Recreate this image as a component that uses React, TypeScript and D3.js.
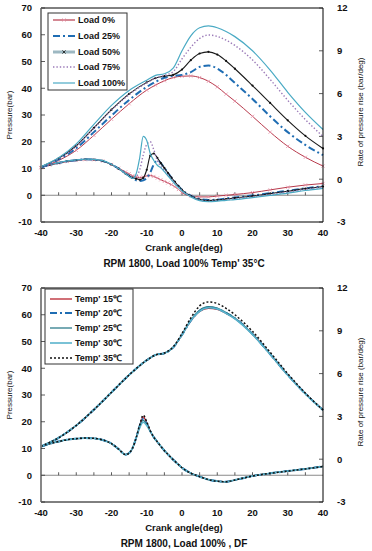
import React from 'react';
import * as d3 from 'd3';

// ---------- data ----------
const PRESSURE_ANGLES = [-40, -35, -30, -25, -20, -15, -10, -7.5, -5, -2.5, 0, 2.5, 5, 7.5, 10, 12.5, 15, 20, 25, 30, 35, 40];
const RATE_ANGLES = [-40, -37.5, -35, -32.5, -30, -27.5, -25, -22.5, -20, -18, -16, -15, -14, -13, -12, -11, -10, -9, -8, -7, -6, -5, -4, -3, -2, -1, 0, 2.5, 5, 7.5, 10, 12.5, 15, 20, 25, 30, 35, 40];

const X_TICKS = [-40, -30, -20, -10, 0, 10, 20, 30, 40];
const LEFT_TICKS = [-10, 0, 10, 20, 30, 40, 50, 60, 70];
const RIGHT_TICKS = [-3, 0, 3, 6, 9, 12];
const ZERO_LINE_TICKS = [-35, -30, -25, -20, -15, -10, -5, 0, 5, 10, 15, 20, 25, 30, 35];

// Top panel: load sweep
const LOAD_LABELS = ['Load 0%', 'Load 25%', 'Load 50%', 'Load 75%', 'Load 100%'];
const load0Pressure = [10.3, 13.0, 16.8, 22.4, 28.4, 34.2, 39.3, 41.2, 42.8, 44.0, 44.5, 44.6, 44.0, 42.6, 40.5, 37.8, 35.2, 29.5, 23.6, 18.3, 14.2, 10.9];
const load25Pressure = [10.4, 13.4, 17.6, 23.6, 29.8, 35.6, 40.5, 42.4, 43.9, 44.6, 45.0, 46.0, 48.0, 48.5, 47.4, 45.0, 42.0, 36.0, 29.5, 23.6, 18.8, 15.0];
const load50Pressure = [10.6, 13.8, 18.5, 25.2, 32.0, 37.9, 42.2, 43.8, 44.5, 45.0, 47.0, 50.5, 53.0, 53.6, 52.6, 50.2, 47.3, 41.0, 34.5, 28.0, 22.2, 17.5];
const load75Pressure = [10.5, 13.6, 18.3, 25.0, 31.8, 37.6, 42.0, 43.8, 44.8, 46.2, 51.0, 55.3, 58.6, 59.9, 59.4, 58.0, 56.0, 50.6, 43.3, 35.5, 28.3, 22.0];
const load100Pressure = [10.7, 14.0, 19.2, 26.5, 33.6, 39.2, 43.0, 44.8, 45.4, 47.5, 54.0, 59.6, 62.6, 63.3, 62.6, 61.2, 59.3, 54.0, 46.8, 38.5, 31.0, 24.6];

const load0Rate = [0.82, 0.99, 1.12, 1.24, 1.31, 1.37, 1.36, 1.27, 1.03, 0.77, 0.51, 0.38, 0.24, 0.17, 0.11, 0.15, 0.24, 0.26, 0.19, 0.08, -0.04, -0.15, -0.26, -0.38, -0.53, -0.72, -0.94, -1.18, -1.24, -1.24, -1.18, -1.13, -1.07, -0.94, -0.75, -0.56, -0.41, -0.3];
const load25Rate = [0.84, 1.01, 1.14, 1.26, 1.33, 1.39, 1.37, 1.28, 1.03, 0.75, 0.41, 0.23, 0.06, -0.08, -0.13, -0.08, 0.09, 0.47, 1.03, 1.31, 1.13, 0.79, 0.45, 0.11, -0.19, -0.49, -0.75, -1.16, -1.39, -1.46, -1.43, -1.35, -1.28, -1.14, -0.98, -0.81, -0.64, -0.49];
const load50Rate = [0.85, 1.02, 1.15, 1.27, 1.34, 1.4, 1.38, 1.28, 1.03, 0.74, 0.38, 0.23, 0.11, 0.04, -0.04, 0.09, 0.66, 1.65, 1.8, 1.5, 1.13, 0.79, 0.45, 0.11, -0.19, -0.49, -0.75, -1.18, -1.43, -1.5, -1.46, -1.39, -1.31, -1.18, -1.01, -0.84, -0.66, -0.51];
const load75Rate = [0.84, 1.02, 1.15, 1.27, 1.34, 1.4, 1.38, 1.29, 1.04, 0.74, 0.38, 0.23, 0.11, 0.19, 0.66, 1.69, 2.44, 2.63, 2.06, 1.31, 0.9, 0.6, 0.3, 0.0, -0.28, -0.54, -0.79, -1.2, -1.46, -1.54, -1.5, -1.44, -1.37, -1.24, -1.07, -0.9, -0.71, -0.56];
const load100Rate = [0.86, 1.03, 1.16, 1.28, 1.35, 1.41, 1.39, 1.3, 1.05, 0.75, 0.38, 0.19, 0.06, 0.38, 1.5, 3.0, 2.72, 1.78, 1.31, 0.98, 0.79, 0.53, 0.24, -0.04, -0.34, -0.58, -0.83, -1.24, -1.5, -1.58, -1.54, -1.48, -1.43, -1.29, -1.14, -0.98, -0.79, -0.64];

// Bottom panel: temperature sweep
const TEMP_LABELS = ["Temp' 15\u2103", "Temp' 20\u2103", "Temp' 25\u2103", "Temp' 30\u2103", "Temp' 35\u2103"];
const temp15Pressure = [10.8, 14.0, 18.6, 24.5, 31.0, 37.5, 43.0, 45.0, 45.6, 47.8, 52.5, 57.7, 61.2, 62.4, 62.0, 60.5, 58.6, 52.8, 45.3, 37.5, 30.5, 24.4];
const temp20Pressure = [10.8, 14.0, 18.6, 24.5, 31.0, 37.5, 43.0, 45.0, 45.6, 47.8, 52.5, 57.8, 61.5, 62.7, 62.3, 60.7, 58.7, 52.8, 45.3, 37.5, 30.5, 24.4];
const temp25Pressure = [10.8, 14.0, 18.6, 24.5, 31.0, 37.5, 43.0, 45.0, 45.6, 47.8, 52.5, 58.0, 61.7, 63.0, 62.5, 60.8, 58.8, 52.8, 45.3, 37.5, 30.5, 24.4];
const temp30Pressure = [10.8, 14.0, 18.6, 24.5, 31.0, 37.5, 43.0, 45.0, 45.6, 47.8, 52.5, 57.8, 61.3, 62.6, 62.2, 60.5, 58.5, 52.6, 45.2, 37.4, 30.4, 24.3];
const temp35Pressure = [10.8, 14.0, 18.6, 24.5, 31.0, 37.5, 43.0, 45.0, 45.7, 48.0, 53.0, 58.8, 63.3, 64.8, 64.2, 62.4, 60.0, 53.8, 46.0, 38.0, 30.7, 24.4];

const temp15Rate = [0.88, 1.09, 1.24, 1.37, 1.44, 1.48, 1.46, 1.35, 1.09, 0.71, 0.32, 0.43, 0.79, 1.5, 2.3, 2.96, 2.55, 1.97, 1.54, 1.22, 0.9, 0.6, 0.34, 0.09, -0.15, -0.38, -0.6, -0.98, -1.22, -1.43, -1.54, -1.58, -1.46, -1.18, -0.99, -0.83, -0.68, -0.51];
const temp20Rate = [0.88, 1.09, 1.24, 1.37, 1.44, 1.48, 1.46, 1.35, 1.09, 0.71, 0.32, 0.43, 0.79, 1.5, 2.34, 2.81, 2.49, 1.97, 1.54, 1.22, 0.9, 0.6, 0.34, 0.09, -0.15, -0.38, -0.6, -0.98, -1.22, -1.43, -1.54, -1.58, -1.46, -1.18, -0.99, -0.83, -0.68, -0.51];
const temp25Rate = [0.88, 1.09, 1.24, 1.37, 1.44, 1.48, 1.46, 1.35, 1.09, 0.71, 0.32, 0.43, 0.79, 1.5, 2.34, 2.72, 2.44, 1.97, 1.54, 1.22, 0.9, 0.6, 0.34, 0.09, -0.15, -0.38, -0.6, -0.98, -1.22, -1.43, -1.54, -1.58, -1.46, -1.18, -0.99, -0.83, -0.68, -0.51];
const temp30Rate = [0.88, 1.09, 1.24, 1.37, 1.44, 1.48, 1.46, 1.35, 1.09, 0.71, 0.32, 0.43, 0.79, 1.5, 2.2, 2.59, 2.36, 1.95, 1.54, 1.22, 0.9, 0.6, 0.34, 0.09, -0.15, -0.38, -0.6, -0.98, -1.22, -1.43, -1.54, -1.58, -1.46, -1.18, -0.99, -0.83, -0.68, -0.51];
const temp35Rate = [0.88, 1.09, 1.24, 1.37, 1.44, 1.48, 1.46, 1.35, 1.09, 0.71, 0.32, 0.43, 0.79, 1.5, 2.4, 3.09, 2.62, 1.99, 1.54, 1.22, 0.9, 0.6, 0.34, 0.09, -0.15, -0.38, -0.6, -0.98, -1.22, -1.43, -1.54, -1.58, -1.46, -1.18, -0.99, -0.83, -0.68, -0.51];

const TOP_CAPTION = "RPM 1800, Load 100% Temp' 35\u00B0C";
const BOTTOM_CAPTION = 'RPM 1800, Load 100% , DF';

// ---------- layout / style ----------
const FONT = "'Liberation Sans', Arial, sans-serif";
const PLOT_LEFT = 41;
const PLOT_RIGHT = 323;
const PLOT_H = 214;

type SeriesStyle = {
  color: string;
  width: number;
  dash?: string;
  marker?: 'x' | 'dot';
  markerColor?: string;
  legendColor?: string;
  legendWidth?: number;
};

const LOAD_STYLES: SeriesStyle[] = [
  { color: '#b83a4c', width: 1, marker: 'x', markerColor: '#e58fa5' },
  { color: '#1f6db3', width: 2, dash: '7,3,2,3' },
  { color: '#1a1a1a', width: 1.1, marker: 'dot', markerColor: '#111', legendColor: '#9db8c2', legendWidth: 3 },
  { color: '#9b7ab8', width: 1.4, dash: '1.4,2' },
  { color: '#4aaac4', width: 1.2 },
];

const TEMP_STYLES: SeriesStyle[] = [
  { color: '#b8222e', width: 1.3 },
  { color: '#1f6db3', width: 2, dash: '7,3,2,3' },
  { color: '#2e7c8c', width: 1.3 },
  { color: '#58b3cc', width: 1.6 },
  { color: '#111111', width: 1.5, dash: '2,2' },
];

type PanelProps = {
  top: number;
  labels: string[];
  styles: SeriesStyle[];
  pressure: number[][];
  rate: number[][];
  caption: string;
  legend: { x: number; y: number; w: number; h: number; rowY: number[] };
};

function Marker({ kind, cx, cy, color }: { kind: 'x' | 'dot'; cx: number; cy: number; color: string }) {
  if (kind === 'x') {
    const s = 1.6;
    return (
      <path d={`M${cx - s},${cy - s}L${cx + s},${cy + s}M${cx - s},${cy + s}L${cx + s},${cy - s}`} stroke={color} strokeWidth={0.8} fill="none" />
    );
  }
  return <circle cx={cx} cy={cy} r={1.1} fill={color} />;
}

function Panel({ top, labels, styles, pressure, rate, caption, legend }: PanelProps) {
  const bottom = top + PLOT_H;
  const x = d3.scaleLinear().domain([-40, 40]).range([PLOT_LEFT, PLOT_RIGHT]);
  const yL = d3.scaleLinear().domain([-10, 70]).range([bottom, top]);
  const yR = d3.scaleLinear().domain([-3, 12]).range([bottom, top]);

  const lineP = d3
    .line<number>()
    .x((_, i) => x(PRESSURE_ANGLES[i]))
    .y((d) => yL(d))
    .curve(d3.curveMonotoneX);
  const lineR = d3
    .line<number>()
    .x((_, i) => x(RATE_ANGLES[i]))
    .y((d) => yR(d))
    .curve(d3.curveMonotoneX);

  const midY = (top + bottom) / 2;

  return (
    <g>
      {/* zero line with ticks */}
      <line x1={PLOT_LEFT} x2={PLOT_RIGHT} y1={yL(0)} y2={yL(0)} stroke="#8a8a8a" strokeWidth={1} />
      {ZERO_LINE_TICKS.map((t) => (
        <line key={'zt' + t} x1={x(t)} x2={x(t)} y1={yL(0)} y2={yL(0) - 3} stroke="#333" strokeWidth={0.8} />
      ))}

      {/* series */}
      {rate.map((vals, si) => (
        <g key={'r' + si}>
          <path d={lineR(vals) || ''} fill="none" stroke={styles[si].color} strokeWidth={styles[si].width} strokeDasharray={styles[si].dash} />
          {styles[si].marker &&
            vals.map((v, i) => (
              <Marker key={i} kind={styles[si].marker!} cx={x(RATE_ANGLES[i])} cy={yR(v)} color={styles[si].markerColor || styles[si].color} />
            ))}
        </g>
      ))}
      {pressure.map((vals, si) => (
        <g key={'p' + si}>
          <path d={lineP(vals) || ''} fill="none" stroke={styles[si].color} strokeWidth={styles[si].width} strokeDasharray={styles[si].dash} />
          {styles[si].marker &&
            vals.map((v, i) => (
              <Marker key={i} kind={styles[si].marker!} cx={x(PRESSURE_ANGLES[i])} cy={yL(v)} color={styles[si].markerColor || styles[si].color} />
            ))}
        </g>
      ))}

      {/* frame */}
      <line x1={PLOT_LEFT} x2={PLOT_RIGHT} y1={top} y2={top} stroke="#000" strokeWidth={1} />
      <line x1={PLOT_LEFT} x2={PLOT_RIGHT} y1={bottom} y2={bottom} stroke="#000" strokeWidth={1} />
      <line x1={PLOT_RIGHT} x2={PLOT_RIGHT} y1={top} y2={bottom} stroke="#000" strokeWidth={1} />
      <line x1={PLOT_LEFT} x2={PLOT_LEFT} y1={top} y2={bottom} stroke="#7a7a7a" strokeWidth={1.8} />

      {/* left axis */}
      {LEFT_TICKS.map((t) => (
        <g key={'l' + t}>
          <line x1={PLOT_LEFT} x2={PLOT_LEFT + 4} y1={yL(t)} y2={yL(t)} stroke="#333" strokeWidth={0.8} />
          <text x={32} y={yL(t)} dy="0.35em" textAnchor="end" fontSize={9.5} fontWeight="bold" fontFamily={FONT} fill="#111">
            {t}
          </text>
        </g>
      ))}
      {/* right axis */}
      {RIGHT_TICKS.map((t) => (
        <g key={'rt' + t}>
          <line x1={PLOT_RIGHT - 4} x2={PLOT_RIGHT} y1={yR(t)} y2={yR(t)} stroke="#333" strokeWidth={0.8} />
          <text x={337} y={yR(t)} dy="0.35em" textAnchor="start" fontSize={9.5} fontWeight="bold" fontFamily={FONT} fill="#111">
            {t}
          </text>
        </g>
      ))}
      {/* x tick labels */}
      {X_TICKS.map((t) => (
        <text key={'x' + t} x={x(t)} y={bottom + 11} dy="0.35em" textAnchor="middle" fontSize={9.5} fontWeight="bold" fontFamily={FONT} fill="#111">
          {t}
        </text>
      ))}

      {/* titles */}
      <text x={184} y={bottom + 26} dy="0.35em" textAnchor="middle" fontSize={9.5} fontWeight="bold" fontFamily={FONT} fill="#111">
        Crank angle(deg)
      </text>
      <text x={184} y={bottom + 41} dy="0.35em" textAnchor="middle" fontSize={10} fontWeight="bold" fontFamily={FONT} fill="#111">
        {caption}
      </text>
      <text transform={`translate(9,${midY}) rotate(-90)`} textAnchor="middle" dy="0.35em" fontSize={8} fontFamily={FONT} fill="#111">
        Pressure(bar)
      </text>
      <text transform={`translate(360,${midY - 3}) rotate(-90)`} textAnchor="middle" dy="0.35em" fontSize={8} fontFamily={FONT} fill="#111">
        Rate of pressure rise (bar/deg)
      </text>

      {/* legend */}
      <rect x={legend.x} y={legend.y} width={legend.w} height={legend.h} fill="#fff" stroke="#333" strokeWidth={1} />
      {labels.map((lab, i) => {
        const st = styles[i];
        const ly = legend.rowY[i];
        return (
          <g key={'lg' + i}>
            <line
              x1={legend.x + 5}
              x2={legend.x + 27}
              y1={ly}
              y2={ly}
              stroke={st.legendColor || st.color}
              strokeWidth={st.legendWidth || Math.max(st.width, 1.2)}
              strokeDasharray={st.dash}
            />
            {st.marker && <Marker kind="x" cx={legend.x + 16} cy={ly} color={st.marker === 'dot' ? '#111' : st.markerColor || st.color} />}
            <text x={legend.x + 30} y={ly} dy="0.35em" fontSize={9} fontWeight="bold" fontFamily={FONT} fill="#111">
              {lab}
            </text>
          </g>
        );
      })}
    </g>
  );
}

export default function App() {
  return (
    <svg width={372} height={551} viewBox="0 0 372 551" style={{ position: 'absolute', left: 0, top: 0, background: '#fff' }}>
      <rect x={0} y={0} width={372} height={551} fill="#fff" />
      <Panel
        top={8}
        labels={LOAD_LABELS}
        styles={LOAD_STYLES}
        pressure={[load0Pressure, load25Pressure, load50Pressure, load75Pressure, load100Pressure]}
        rate={[load0Rate, load25Rate, load50Rate, load75Rate, load100Rate]}
        caption={TOP_CAPTION}
        legend={{ x: 48, y: 13, w: 79, h: 77, rowY: [20, 36, 52, 67, 83] }}
      />
      <Panel
        top={288}
        labels={TEMP_LABELS}
        styles={TEMP_STYLES}
        pressure={[temp15Pressure, temp20Pressure, temp25Pressure, temp30Pressure, temp35Pressure]}
        rate={[temp15Rate, temp20Rate, temp25Rate, temp30Rate, temp35Rate]}
        caption={BOTTOM_CAPTION}
        legend={{ x: 45, y: 289, w: 88, h: 75, rowY: [299, 313, 328, 343, 358] }}
      />
    </svg>
  );
}
